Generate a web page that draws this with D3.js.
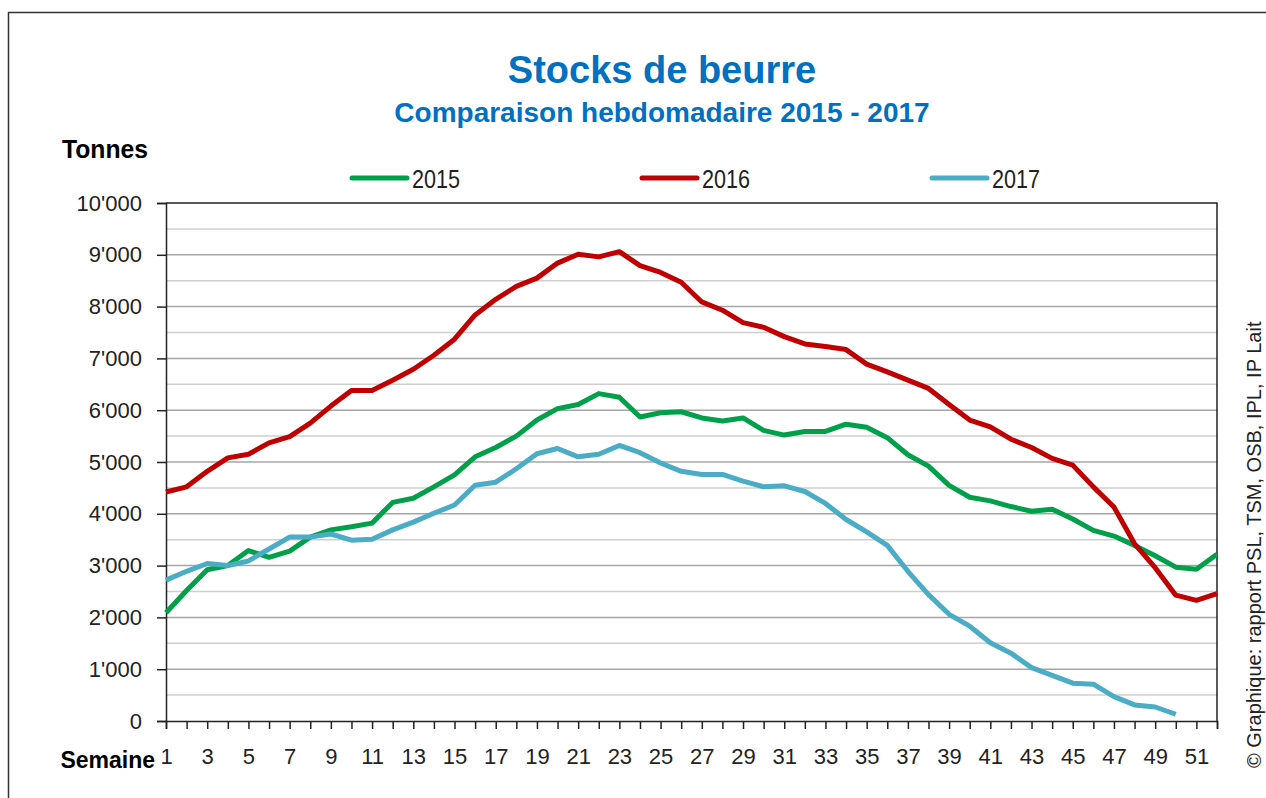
<!DOCTYPE html>
<html>
<head>
<meta charset="utf-8">
<script src="https://cdn.jsdelivr.net/npm/d3@7"></script>
<style>
    html, body { margin: 0; padding: 0; background: #fff; }
    #chart { width: 1266px; height: 798px; overflow: hidden; }
    text { font-family: "Liberation Sans", Arial, sans-serif; }
</style>
</head>
<body>
<div id="chart"></div>
<script>
//Données (tonnes, par semaine)
const weeks = d3.range(1, 53);
const years = ['2015', '2016', '2017'];
const stock2015 = [2090, 2520, 2920, 3000, 3290, 3160, 3280, 3550, 3690, 3750,
    3820, 4220, 4300, 4520, 4750, 5100, 5280, 5500, 5810, 6030,
    6110, 6320, 6250, 5870, 5950, 5970, 5850, 5790, 5850, 5610,
    5520, 5590, 5590, 5730, 5670, 5470, 5140, 4920, 4550, 4320,
    4250, 4140, 4050, 4090, 3900, 3680, 3570, 3390, 3190, 2970,
    2930, 3220];
const stock2016 = [4420, 4520, 4820, 5080, 5150, 5370, 5490, 5750, 6080, 6380,
    6380, 6580, 6790, 7060, 7370, 7840, 8140, 8390, 8550, 8840,
    9010, 8960, 9060, 8790, 8660, 8470, 8090, 7930, 7690, 7600,
    7420, 7280, 7230, 7170, 6890, 6740, 6580, 6420, 6110, 5810,
    5680, 5440, 5280, 5070, 4940, 4520, 4130, 3420, 2960, 2430,
    2330, 2460];
const stock2017 = [2720, 2890, 3040, 3000, 3090, 3320, 3550, 3550, 3610, 3490,
    3510, 3690, 3840, 4010, 4170, 4550, 4610, 4870, 5160, 5260,
    5100, 5150, 5320, 5180, 4980, 4820, 4760, 4760, 4630, 4520,
    4540, 4430, 4200, 3890, 3650, 3390, 2890, 2440, 2060, 1830,
    1510, 1310, 1030, 880, 730, 710, 470, 310, 270, 130];
const yTicks = d3.range(0, 10001, 1000);
const gridValues = d3.range(500, 10000, 500);

//Couleurs
const COLOR_TITLE = '#0070C0';
const COLORS = ['#00A04B', '#C00000', '#4BACC6'];

const series = [stock2015, stock2016, stock2017];

let margin = {top: 203, right: 49, bottom: 77, left: 166},
    width = 1266 - margin.left - margin.right,
    height = 798 - margin.top - margin.bottom;

let root = d3.select('#chart')
    .append('svg')
        .attr('width', 1266)
        .attr('height', 798);

//Cadre extérieur
root.append('rect')
    .attr('x', 8.5)
    .attr('y', 12.5)
    .attr('width', 1300)
    .attr('height', 820)
    .attr('fill', 'none')
    .attr('stroke', '#333')
    .attr('stroke-width', 1.5);

//Titres
root.append('text')
    .attr('x', 662)
    .attr('y', 83)
    .attr('text-anchor', 'middle')
    .attr('font-size', 38)
    .attr('font-weight', 'bold')
    .attr('fill', COLOR_TITLE)
    .text('Stocks de beurre');

root.append('text')
    .attr('x', 662)
    .attr('y', 122)
    .attr('text-anchor', 'middle')
    .attr('font-size', 28)
    .attr('font-weight', 'bold')
    .attr('fill', COLOR_TITLE)
    .text('Comparaison hebdomadaire 2015 - 2017');

root.append('text')
    .attr('x', 62)
    .attr('y', 158)
    .attr('font-size', 25)
    .attr('font-weight', 'bold')
    .attr('textLength', 86)
    .attr('lengthAdjust', 'spacingAndGlyphs')
    .text('Tonnes');

root.append('text')
    .attr('x', 155)
    .attr('y', 768)
    .attr('text-anchor', 'end')
    .attr('font-size', 23)
    .attr('font-weight', 'bold')
    .text('Semaine');

//Source (verticale, le long du bord droit)
root.append('text')
    .attr('transform', 'translate(1261,768) rotate(-90)')
    .attr('font-size', 20)
    .attr('fill', '#222')
    .text('© Graphique: rapport PSL, TSM, OSB, IPL, IP Lait');

//Légende
let legend = root.selectAll('.legend')
    .data(years)
    .enter()
    .append('g')
    .attr('class', 'legend')
    .attr('transform', function(d, i) { return 'translate(' + (352 + i * 290) + ',178)'; });

legend.append('line')
    .attr('x1', 0)
    .attr('x2', 55)
    .attr('stroke', function(d, i) { return COLORS[i]; })
    .attr('stroke-width', 5)
    .attr('stroke-linecap', 'round');

legend.append('text')
    .attr('x', 60)
    .attr('y', 10)
    .attr('font-size', 26)
    .attr('textLength', 48)
    .attr('lengthAdjust', 'spacingAndGlyphs')
    .attr('fill', '#222')
    .text(function(d) { return d; });

let svg = root.append('g')
    .attr('transform', 'translate(' + margin.left + ',' + margin.top + ')');

// Echelles
let x = d3.scaleLinear()
    .domain([1, 52])
    .range([0, width]);

let y = d3.scaleLinear()
    .domain([0, 10000])
    .range([height, 0]);

//Lignes de grille
svg.selectAll('.grid')
    .data(gridValues)
    .enter()
    .append('line')
    .attr('class', 'grid')
    .attr('x1', 0)
    .attr('x2', width)
    .attr('y1', function(d) { return y(d); })
    .attr('y2', function(d) { return y(d); })
    .attr('stroke', function(d) { return d % 1000 == 0 ? '#a6a6a6' : '#cfcfcf'; })
    .attr('stroke-width', 1.5);

//Bord haut et droit
svg.append('path')
    .attr('d', 'M0,' + y(10000) + 'H' + width + 'V' + height)
    .attr('fill', 'none')
    .attr('stroke', '#222')
    .attr('stroke-width', 1.5);

const locale = d3.formatLocale({decimal: '.', thousands: "'", grouping: [3], currency: ['', '']});
const fmt = locale.format(',');

// Axe Y
let yAxis = function(g) {
    g.call(d3.axisLeft(y).tickValues(yTicks).tickSize(9).tickPadding(15).tickFormat(fmt));
    g.selectAll('.tick text').attr('font-size', 22).attr('fill', '#222').attr('font-family', null);
    g.selectAll('line, path').attr('stroke', '#222').attr('stroke-width', 1.5);
}
svg.append('g').call(yAxis);

// Axe X
let xAxis = function(g) {
    g.call(d3.axisBottom(x).tickValues(weeks).tickSize(8).tickPadding(19)
        .tickFormat(function(d) { return d % 2 == 1 ? d : ''; }));
    g.selectAll('.tick text').attr('font-size', 22).attr('fill', '#222').attr('font-family', null);
    g.selectAll('line, path').attr('stroke', '#222').attr('stroke-width', 1.5);
}
svg.append('g')
    .attr('transform', 'translate(0,' + height + ')')
    .call(xAxis);

//Courbes
let line = d3.line()
    .x(function(d, i) { return x(weeks[i]); })
    .y(function(d) { return y(d); });

svg.selectAll('.serie')
    .data(series)
    .enter()
    .append('path')
    .attr('class', 'serie')
    .attr('d', line)
    .attr('fill', 'none')
    .attr('stroke', function(d, i) { return COLORS[i]; })
    .attr('stroke-width', 5)
    .attr('stroke-linejoin', 'round');
</script>
</body>
</html>
